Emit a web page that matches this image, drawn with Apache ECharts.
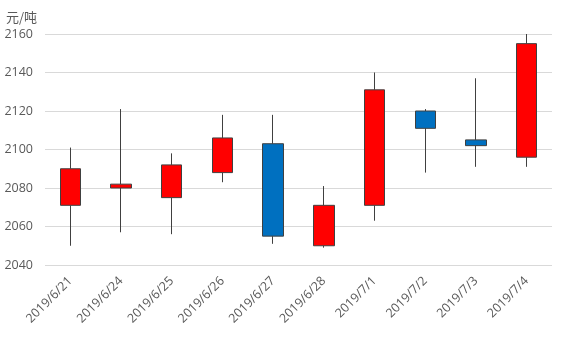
<!DOCTYPE html>
<html>
<head>
<meta charset="utf-8">
<script src="https://cdn.jsdelivr.net/npm/echarts@6/dist/echarts.min.js"></script>
<style>
  html, body { margin: 0; padding: 0; background: #fff; }
  #chart { width: 568px; height: 340px; }
</style>
</head>
<body>
<div id="chart"></div>
<script>
// Daily prices, yuan per tonne
const dates = ['2019/6/21', '2019/6/24', '2019/6/25', '2019/6/26', '2019/6/27',
               '2019/6/28', '2019/7/1', '2019/7/2', '2019/7/3', '2019/7/4'];
const openPrices  = [2071, 2080, 2075, 2088, 2103, 2050, 2071, 2120, 2105, 2096];
const closePrices = [2090, 2082, 2092, 2106, 2055, 2071, 2131, 2111, 2102, 2155];
const lowPrices   = [2050, 2057, 2056, 2083, 2051, 2049, 2063, 2088, 2091, 2091];
const highPrices  = [2101, 2121, 2098, 2118, 2118, 2081, 2140, 2121, 2137, 2160];
const yTicks = { min: 2040, max: 2160, step: 20 };
const unitLabel = '元/吨';

// ECharts candlestick rows are [open, close, low, high]
const ohlc = dates.map((_, i) => [openPrices[i], closePrices[i], lowPrices[i], highPrices[i]]);

const font = '"Open Sans", "Noto Sans CJK SC", sans-serif';
const chart = echarts.init(document.getElementById('chart'), null, { renderer: 'canvas' });
chart.setOption({
  animation: false,
  backgroundColor: '#ffffff',
  grid: { left: 45, right: 16, top: 34, bottom: 75 },
  xAxis: {
    type: 'category',
    data: dates,
    boundaryGap: true,
    axisLine: { show: false },
    axisTick: { show: false },
    axisLabel: {
      rotate: 45,
      interval: 0,
      margin: 14,
      color: '#595959',
      fontSize: 12.5,
      fontFamily: font
    },
    splitLine: { show: false }
  },
  yAxis: {
    type: 'value',
    min: yTicks.min,
    max: yTicks.max,
    interval: yTicks.step,
    name: unitLabel,
    nameLocation: 'end',
    nameGap: 10,
    nameTextStyle: {
      color: '#595959',
      fontSize: 13,
      fontFamily: '"Noto Sans CJK SC", "Open Sans", sans-serif',
      align: 'right',
      padding: [0, 8, 0, 0]
    },
    axisLine: { show: false },
    axisTick: { show: false },
    axisLabel: {
      color: '#595959',
      fontSize: 12.5,
      fontFamily: font,
      margin: 12,
      formatter: (v) => String(v)
    },
    splitLine: { lineStyle: { color: '#d9d9d9', width: 1 } }
  },
  series: [{
    type: 'candlestick',
    data: ohlc,
    barWidth: 21,
    itemStyle: {
      color: '#ff0000',
      color0: '#0070c0',
      borderColor: '#404040',
      borderColor0: '#404040',
      borderWidth: 1
    }
  }]
});
</script>
</body>
</html>
